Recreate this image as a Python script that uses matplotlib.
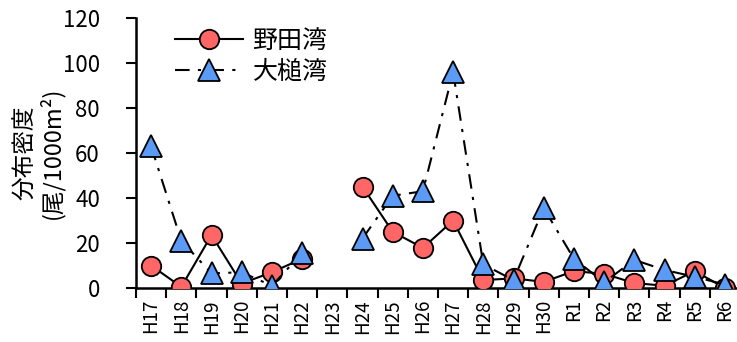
import numpy as np
import matplotlib
matplotlib.use("Agg")
import matplotlib.pyplot as plt

plt.rcParams['font.family'] = ['Noto Sans CJK JP', 'DejaVu Sans']

years = ["H17", "H18", "H19", "H20", "H21", "H22", "H23", "H24", "H25", "H26",
         "H27", "H28", "H29", "H30", "R1", "R2", "R3", "R4", "R5", "R6"]
noda = [10, 0.5, 23.5, 2, 7, 13, np.nan, 45, 25, 17.8, 30, 3.5, 4.3, 2.7,
        7.5, 6.3, 2.2, 1, 7.5, 0]
otsuchi = [63, 21, 6.5, 7, 1, 15.5, np.nan, 22, 41, 43, 96, 10.5, 3.5, 35.5,
           13, 2.5, 12.5, 8, 5, 1.5]

W, H = 737, 342
fig = plt.figure(figsize=(W / 100, H / 100), dpi=100)
ax = fig.add_axes([136 / W, 54 / H, 604 / W, 270 / H])

x = np.arange(len(years))
ax.plot(x, noda, color='black', lw=1.5, marker='o', ms=14,
        mfc='#FF6666', mec='black', mew=1.3, label='野田湾', zorder=3)
ax.plot(x, otsuchi, color='black', lw=1.5, ls=(0, (7, 4, 1.5, 4)),
        marker='^', ms=16, mfc='#5B9BF5', mec='black', mew=1.3,
        label='大槌湾', zorder=4)

ax.set_xlim(-0.5, len(years) - 0.5)
ax.set_ylim(0, 120)
ax.set_yticks(np.arange(0, 121, 20))
ax.set_xticks(x)
ax.set_xticklabels(years, rotation=90, fontsize=13.5)
ax.set_xticks(np.arange(-0.5, len(years)), minor=True)
ax.tick_params(axis='x', which='major', length=0, pad=8)
ax.tick_params(axis='x', which='minor', length=7, width=1.5, direction='out')
ax.tick_params(axis='y', length=7, width=1.5, direction='out', labelsize=16, pad=19)

for side in ('top', 'right'):
    ax.spines[side].set_visible(False)
for side in ('left', 'bottom'):
    ax.spines[side].set_linewidth(1.8)

ax.set_ylabel('分布密度\n(尾/1000m²)', fontsize=17, linespacing=1.05)
ax.yaxis.set_label_coords((64 - 136) / 604, 0.5)

ax.legend(loc='upper left', bbox_to_anchor=(175 / W, 1 - 28 / H),
          bbox_transform=fig.transFigure, frameon=False, borderpad=0,
          borderaxespad=0, fontsize=18, handlelength=2.7,
          labelspacing=0.2, handletextpad=0.4)

fig.savefig('out.png', dpi=100)
